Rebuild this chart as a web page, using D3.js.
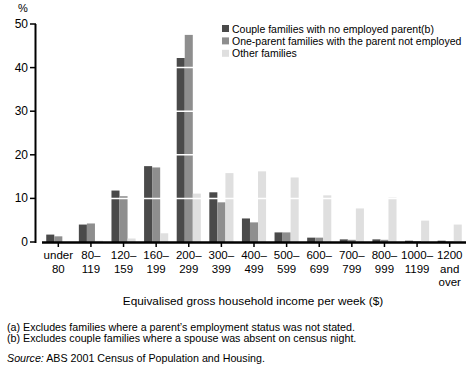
<!DOCTYPE html>
<html>
<head>
<meta charset="utf-8">
<script src="https://cdn.jsdelivr.net/npm/d3@7"></script>
<style>
  body { margin: 0; background: #fff; }
  text { font-family: "Liberation Sans", Arial, sans-serif; fill: #000; }
</style>
</head>
<body>
<div id="chart"></div>
<script>
// 收入區間
const categories = [
  ['under', '80'], ['80–', '119'], ['120–', '159'], ['160–', '199'], ['200–', '299'],
  ['300–', '399'], ['400–', '499'], ['500–', '599'], ['600–', '699'], ['700–', '799'],
  ['800–', '999'], ['1000–', '1199'], ['1200', 'and', 'over'],
]
const seriesNames = [
  'Couple families with no employed parent(b)',
  'One-parent families with the parent not employed',
  'Other families',
]
const coupleNoEmployed = [1.7, 4.0, 11.8, 17.4, 42.2, 11.4, 5.4, 2.2, 1.0, 0.6, 0.6, 0.3, 0.3]
const oneParentNotEmployed = [1.3, 4.25, 10.5, 17.1, 47.5, 9.1, 4.5, 2.2, 1.0, 0.5, 0.5, 0.2, 0.1]
const otherFamilies = [0, 0.3, 0.8, 2.0, 11.1, 15.8, 16.2, 14.8, 10.7, 7.7, 10.2, 4.9, 4.0]
const yTicks = [0, 10, 20, 30, 40, 50]
const colors = ['#4a4a4a', '#8e8e8e', '#dfdfdf']

const width = 473
const height = 376
const margin = { left: 42, right: 7, top: 24, bottom: 134 }
const baseY = height - margin.bottom

const svg = d3.select('#chart').append('svg')
  .attr('width', width).attr('height', height)

const seriesData = [coupleNoEmployed, oneParentNotEmployed, otherFamilies]
const idx = d3.range(categories.length)

const x = d3.scaleBand().domain(idx).range([margin.left, width - margin.right]).paddingInner(0.26).paddingOuter(0.13)
const xSub = d3.scaleBand().domain([0, 1, 2]).range([0, x.bandwidth()])
const y = d3.scaleLinear().domain([0, 50]).range([baseY, margin.top])

// 長條
seriesData.forEach((vals, s) => {
  svg.append('g').selectAll('rect')
    .data(vals)
    .join('rect')
    .attr('x', (d, i) => x(i) + xSub(s))
    .attr('width', xSub.bandwidth())
    .attr('y', d => y(d))
    .attr('height', d => baseY - y(d))
    .attr('fill', colors[s])
})

// 白色格線
svg.append('g').selectAll('line')
  .data(yTicks.filter(t => t > 0))
  .join('line')
  .attr('x1', margin.left).attr('x2', width - margin.right)
  .attr('y1', d => y(d)).attr('y2', d => y(d))
  .attr('stroke', '#fff').attr('stroke-width', 1.5)

// y 軸
svg.append('line')
  .attr('x1', 35.5).attr('x2', 35.5)
  .attr('y1', y(50)).attr('y2', baseY + 1)
  .attr('stroke', '#000').attr('stroke-width', 2)
svg.append('g').selectAll('line')
  .data(yTicks)
  .join('line')
  .attr('x1', 30).attr('x2', 36)
  .attr('y1', d => y(d)).attr('y2', d => y(d))
  .attr('stroke', '#000').attr('stroke-width', 1.5)
svg.append('g').selectAll('text')
  .data(yTicks)
  .join('text')
  .attr('x', 28).attr('y', d => y(d) + 4)
  .attr('text-anchor', 'end')
  .style('font-size', '12px')
  .text(d => d)
svg.append('text').attr('x', 18).attr('y', 12).style('font-size', '11px').text('%')

// x 軸
svg.append('line')
  .attr('x1', margin.left).attr('x2', width - margin.right)
  .attr('y1', baseY + 0.5).attr('y2', baseY + 0.5)
  .attr('stroke', '#000').attr('stroke-width', 2.5)
svg.append('g').selectAll('line')
  .data(idx)
  .join('line')
  .attr('x1', d => x(d) + x.bandwidth() / 2).attr('x2', d => x(d) + x.bandwidth() / 2)
  .attr('y1', baseY).attr('y2', baseY + 5)
  .attr('stroke', '#000').attr('stroke-width', 1.5)

const tickLabels = svg.append('g').selectAll('text')
  .data(idx)
  .join('text')
  .attr('text-anchor', 'middle')
  .style('font-size', '11.5px')
tickLabels.each(function (i) {
  const cx = x(i) + x.bandwidth() / 2
  d3.select(this).selectAll('tspan')
    .data(categories[i])
    .join('tspan')
    .attr('x', cx)
    .attr('y', (d, k) => 259 + k * 13.5)
    .text(d => d)
})

svg.append('text')
  .attr('x', 253).attr('y', 305)
  .attr('text-anchor', 'middle')
  .style('font-size', '11.8px')
  .text('Equivalised gross household income per week ($)')

// 圖例
const legend = svg.append('g').attr('transform', 'translate(222, 25)')
seriesNames.forEach((name, s) => {
  legend.append('rect').attr('x', 0).attr('y', s * 12.4).attr('width', 7).attr('height', 7).attr('fill', colors[s])
  legend.append('text').attr('x', 10).attr('y', s * 12.4 + 7.5).style('font-size', '10.5px').text(name)
})

// 註腳
svg.append('text').attr('x', 7).attr('y', 331).style('font-size', '10.7px')
  .text('(a) Excludes families where a parent\u2019s employment status was not stated.')
svg.append('text').attr('x', 7).attr('y', 342).style('font-size', '10.7px')
  .text('(b) Excludes couple families where a spouse was absent on census night.')
const src = svg.append('text').attr('x', 7).attr('y', 362).style('font-size', '10.7px')
src.append('tspan').style('font-style', 'italic').text('Source:')
src.append('tspan').text(' ABS 2001 Census of Population and Housing.')
</script>
</body>
</html>
